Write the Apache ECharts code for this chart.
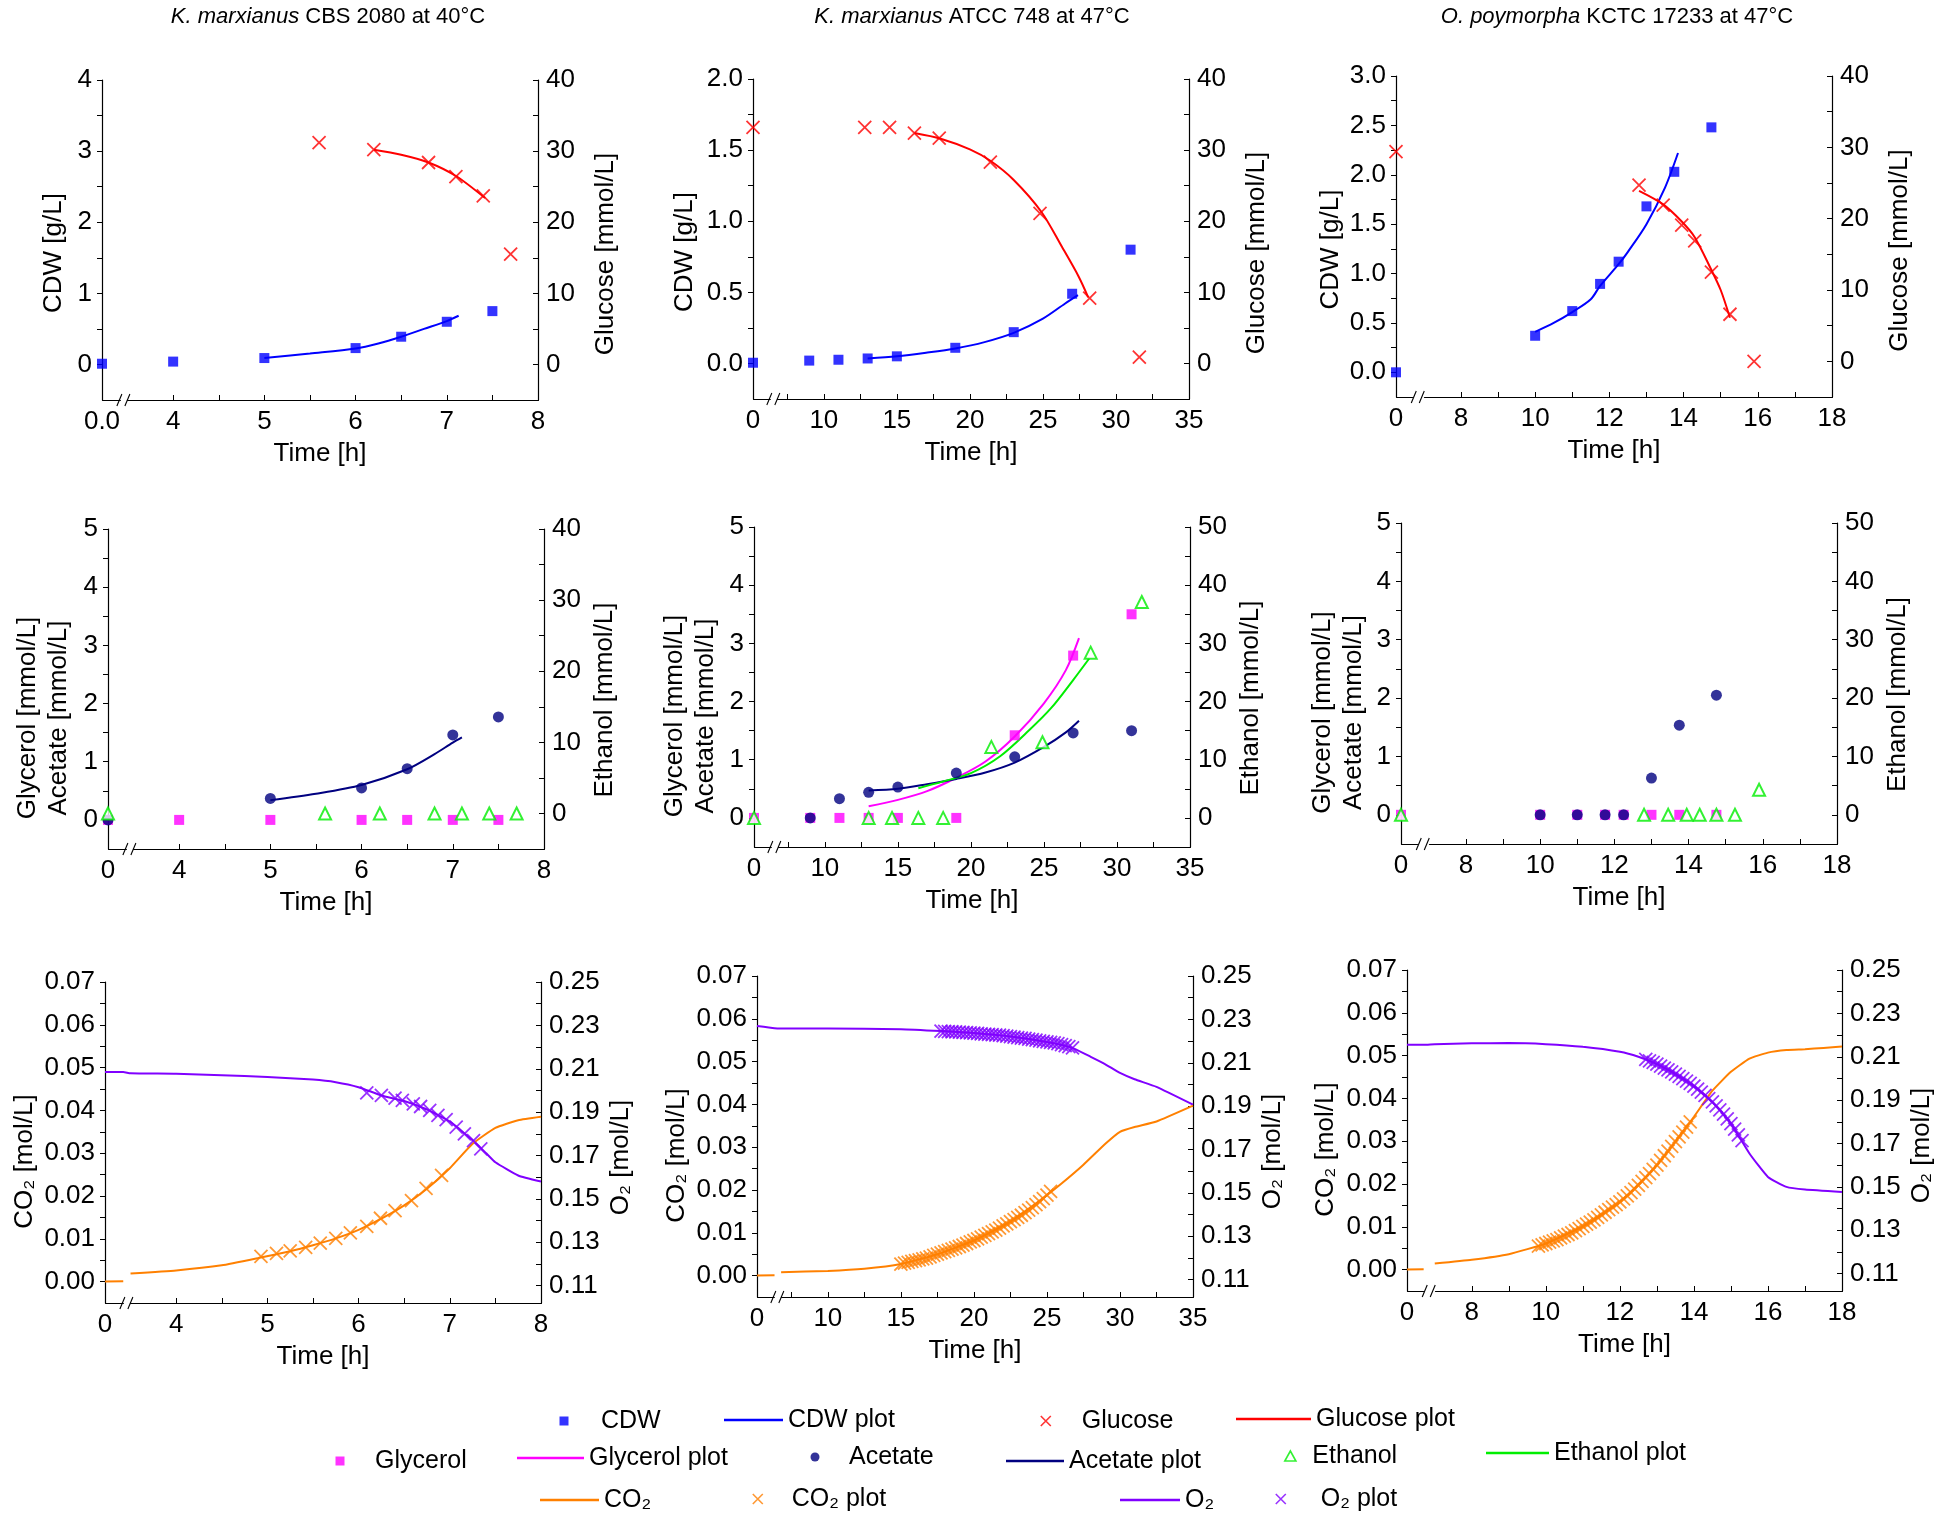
<!DOCTYPE html>
<html>
<head>
<meta charset="utf-8">
<title>Growth kinetics</title>
<script src="https://cdn.jsdelivr.net/npm/echarts@6/dist/echarts.min.js"></script>
<style>
  html, body { margin: 0; padding: 0; background: #fff; }
  #main { width: 1941px; height: 1522px; }
</style>
</head>
<body>
<div id="main"></div>
<script>
// ---------- tick labels ----------
var x8Labels = [0, 4, 5, 6, 7, 8];
var x8Ticks = [0, 4, 4.5, 5, 5.5, 6, 6.5, 7, 7.5, 8];
var x35Labels = [0, 10, 15, 20, 25, 30, 35];
var x35Ticks = [0, 7.5, 10, 12.5, 15, 17.5, 20, 22.5, 25, 27.5, 30, 32.5, 35];
var x18Labels = [0, 8, 10, 12, 14, 16, 18];
var x18Ticks = [0, 8, 9, 10, 11, 12, 13, 14, 15, 16, 17, 18];
var cdw4Labels = [0, 1, 2, 3, 4];
var cdw4Ticks = [0, 0.5, 1, 1.5, 2, 2.5, 3, 3.5, 4];
var cdw2Labels = [0, 0.5, 1, 1.5, 2];
var cdw2Ticks = [0, 0.25, 0.5, 0.75, 1, 1.25, 1.5, 1.75, 2];
var cdw3Labels = [0, 0.5, 1, 1.5, 2, 2.5, 3];
var cdw3Ticks = [0, 0.25, 0.5, 0.75, 1, 1.25, 1.5, 1.75, 2, 2.25, 2.5, 2.75, 3];
var c40Labels = [0, 10, 20, 30, 40];
var c40Ticks = [0, 5, 10, 15, 20, 25, 30, 35, 40];
var c50Labels = [0, 10, 20, 30, 40, 50];
var c50Ticks = [0, 5, 10, 15, 20, 25, 30, 35, 40, 45, 50];
var m5Labels = [0, 1, 2, 3, 4, 5];
var m5Ticks = [0, 0.5, 1, 1.5, 2, 2.5, 3, 3.5, 4, 4.5, 5];
var co2Labels = [0, 0.01, 0.02, 0.03, 0.04, 0.05, 0.06, 0.07];
var co2Ticks = [0, 0.005, 0.01, 0.015, 0.02, 0.025, 0.03, 0.035, 0.04, 0.045, 0.05, 0.055, 0.06, 0.065, 0.07];
var o2Labels = [0.11, 0.13, 0.15, 0.17, 0.19, 0.21, 0.23, 0.25];
var o2Ticks = [0.11, 0.12, 0.13, 0.14, 0.15, 0.16, 0.17, 0.18, 0.19, 0.2, 0.21, 0.22, 0.23, 0.24, 0.25];

// ---------- K. marxianus CBS 2080 ----------
var cbsCdw = [[0, 0.01], [4, 0.04], [5, 0.09], [6, 0.23], [6.5, 0.39], [7, 0.6], [7.5, 0.75]];
var cbsCdwFit = [[5, 0.09], [5.5, 0.155], [6, 0.225], [6.25, 0.295], [6.5, 0.39], [6.75, 0.5], [7, 0.61], [7.13, 0.685]];
var cbsGlc = [[5.6, 31.2], [6.2, 30.2], [6.8, 28.4], [7.1, 26.4], [7.4, 23.7], [7.7, 15.5]];
var cbsGlcFit = [[6.2, 30.2], [6.5, 29.5], [6.8, 28.4], [7.1, 26.5], [7.42, 23.4]];
var cbsGly = [[0, 0], [4, 0], [5, 0], [6, 0], [6.5, 0], [7, 0], [7.5, 0]];
var cbsAce = [[0, 0], [5, 0.37], [6, 0.55], [6.5, 0.88], [7, 1.46], [7.5, 1.77]];
var cbsAceFit = [[5, 0.34], [5.5, 0.45], [6, 0.6], [6.5, 0.87], [6.8, 1.13], [7, 1.33], [7.1, 1.42]];
var cbsEth = [[0, 0], [5.6, 0], [6.2, 0], [6.8, 0], [7.1, 0], [7.4, 0], [7.7, 0]];
var cbsCo2 = [[0, 0], [0.2, 0.0001], [1, null], [3.5, 0.0019], [4, 0.0026], [4.5, 0.0038], [4.9, 0.0055], [5.25, 0.0071],
  [5.5, 0.0085], [5.75, 0.0101], [6, 0.0121], [6.25, 0.0147], [6.5, 0.0178], [6.75, 0.0217], [7, 0.0265],
  [7.25, 0.0322], [7.5, 0.0359], [7.75, 0.0377], [8, 0.0385]];
var cbsCo2Pts = [[4.93, 0.0059], [5.1, 0.0066], [5.25, 0.0072], [5.42, 0.008], [5.58, 0.009], [5.75, 0.0101], [5.91, 0.0114],
  [6.09, 0.0129], [6.24, 0.0148], [6.4, 0.0166], [6.58, 0.0189], [6.74, 0.0218], [6.91, 0.0248]];
var cbsO2 = [[0, 0.2085], [0.2, 0.2085], [3.5, 0.2079], [4, 0.2077], [4.5, 0.207], [5, 0.2062], [5.5, 0.205], [5.75, 0.2038],
  [6, 0.2015], [6.25, 0.1977], [6.5, 0.1951], [6.75, 0.1912], [7, 0.1857], [7.25, 0.177], [7.4, 0.171], [7.5, 0.1669],
  [7.75, 0.1608], [8, 0.158]];
var cbsO2Pts = [[6.09, 0.1989], [6.25, 0.1977], [6.4, 0.1965], [6.48, 0.1954], [6.6, 0.1938], [6.68, 0.1926], [6.78, 0.1908],
  [6.87, 0.1885], [6.96, 0.1865], [7.07, 0.1831], [7.16, 0.18], [7.26, 0.1769], [7.34, 0.1731]];

// ---------- K. marxianus ATCC 748 ----------
var atccCdw = [[0, 0.005], [9, 0.02], [11, 0.026], [13, 0.035], [15, 0.05], [19, 0.11], [23, 0.22], [27, 0.49], [31, 0.8]];
var atccCdwFit = [[13, 0.035], [15, 0.05], [17, 0.075], [19, 0.105], [21, 0.15], [23, 0.215], [25, 0.315], [26.5, 0.42], [27.4, 0.48]];
var atccGlc = [[0, 33.2], [12.8, 33.2], [14.5, 33.2], [16.2, 32.4], [17.9, 31.7], [21.4, 28.3], [24.8, 21.1], [28.2, 9.2], [31.6, 0.9]];
var atccGlcFit = [[16.2, 32.4], [18, 31.6], [20, 30.1], [21.4, 28.5], [23, 25.8], [24.9, 21.3], [26.3, 16.4], [27.45, 12.2], [28.1, 9.3]];
var atccGly = [[0, 0], [9, 0], [11, 0], [13, 0], [15, 0], [19, 0], [23, 1.42], [27, 2.79], [31, 3.5]];
var atccGlyFit = [[13, 0.2], [15, 0.31], [17, 0.46], [19, 0.69], [21, 0.97], [23, 1.4], [25, 1.97], [26.5, 2.54], [27.4, 3.09]];
var atccAce = [[9, 0], [11, 0.33], [13, 0.44], [15, 0.53], [19, 0.77], [23, 1.05], [27, 1.46], [31, 1.5]];
var atccAceFit = [[13, 0.47], [15, 0.5], [17, 0.58], [19, 0.67], [21, 0.78], [23, 0.95], [25, 1.22], [26.5, 1.47], [27.4, 1.67]];
var atccEth = [[0, 0], [13, 0], [14.6, 0], [16.4, 0], [18.1, 0], [21.4, 12.2], [24.9, 13], [28.2, 28.4], [31.7, 37.1]];
var atccEthFit = [[16.4, 5.1], [18, 6.2], [20, 7.7], [22, 10.6], [24, 15.1], [25.5, 18.9], [27, 23.7], [28.1, 27.4]];
var atccCo2 = [[0, 0], [1.2, 0.0001], [4, null], [6.8, 0.0008], [10, 0.0011], [12.5, 0.0016], [15, 0.0027], [17.5, 0.005],
  [20, 0.0082], [22.5, 0.0126], [25, 0.0188], [26, 0.0215], [27.5, 0.0259], [29, 0.0308], [30, 0.0336], [31, 0.0347],
  [32.5, 0.036], [35, 0.0397]];
var atccCo2Pts = [[15, 0.0027], [15.25, 0.0029], [15.5, 0.0031], [15.75, 0.0033], [16, 0.0035], [16.25, 0.0037], [16.5, 0.0039],
  [16.75, 0.0041], [17, 0.0044], [17.25, 0.0047], [17.5, 0.005], [17.75, 0.0053], [18, 0.0056], [18.25, 0.0059],
  [18.5, 0.0062], [18.75, 0.0065], [19, 0.0068], [19.25, 0.0071], [19.5, 0.0075], [19.75, 0.0079], [20, 0.0082],
  [20.25, 0.0086], [20.5, 0.009], [20.75, 0.0094], [21, 0.0098], [21.25, 0.0102], [21.5, 0.0106], [21.75, 0.0111],
  [22, 0.0116], [22.25, 0.0121], [22.5, 0.0126], [22.75, 0.0131], [23, 0.0136], [23.25, 0.0141], [23.5, 0.0147],
  [23.75, 0.0153], [24, 0.0159], [24.25, 0.0166], [24.5, 0.0173], [24.75, 0.018], [25, 0.0188], [25.25, 0.0197]];
var atccO2 = [[0, 0.2269], [1.2, 0.2259], [6.8, 0.2258], [10, 0.2258], [15, 0.2255], [17.8, 0.2246], [20, 0.2237], [22.5, 0.2221],
  [25, 0.2196], [26.7, 0.217], [28, 0.2127], [29, 0.2093], [30, 0.2053], [31, 0.2024], [32.5, 0.1989], [35, 0.1907]];
var atccO2Pts = [[17.75, 0.2246], [18, 0.2245], [18.25, 0.2244], [18.5, 0.2243], [18.75, 0.2242], [19, 0.2241], [19.25, 0.224],
  [19.5, 0.2239], [19.75, 0.2238], [20, 0.2237], [20.25, 0.2235], [20.5, 0.2233], [20.75, 0.2232], [21, 0.2231],
  [21.25, 0.223], [21.5, 0.2228], [21.75, 0.2227], [22, 0.2225], [22.25, 0.2223], [22.5, 0.2221], [22.75, 0.2218],
  [23, 0.2216], [23.25, 0.2214], [23.5, 0.2212], [23.75, 0.2209], [24, 0.2207], [24.25, 0.2204], [24.5, 0.2201],
  [24.75, 0.2199], [25, 0.2196], [25.25, 0.2194], [25.5, 0.2192], [25.75, 0.2188], [26, 0.2184], [26.25, 0.2179],
  [26.5, 0.2174], [26.75, 0.2169]];

// ---------- O. polymorpha KCTC 17233 ----------
var kctcCdw = [[0, 0], [10, 0.37], [11, 0.62], [11.75, 0.895], [12.25, 1.12], [13, 1.68], [13.75, 2.03], [14.75, 2.48]];
var kctcCdwFit = [[10, 0.41], [10.5, 0.5], [11, 0.61], [11.5, 0.74], [11.75, 0.875], [12.25, 1.095], [12.5, 1.22], [13, 1.5], [13.5, 1.87], [13.85, 2.22]];
var kctcGlc = [[0, 29.4], [12.8, 24.7], [13.45, 21.9], [13.95, 19.1], [14.3, 16.9], [14.75, 12.5], [15.25, 6.6], [15.9, 0]];
var kctcGlcFit = [[12.8, 23.9], [13.45, 22], [13.95, 19.6], [14.3, 17.4], [14.75, 12.8], [15, 10], [15.25, 6.1]];
var kctcGly = [[0, 0], [10, 0], [11, 0], [11.75, 0], [12.25, 0], [13, 0], [13.75, 0], [14.75, 0]];
var kctcAce = [[10, 0], [11, 0], [11.75, 0], [12.25, 0], [13, 0.63], [13.75, 1.535], [14.75, 2.05]];
var kctcEth = [[0, 0], [12.8, 0], [13.45, 0], [13.95, 0], [14.3, 0], [14.75, 0], [15.25, 0], [15.9, 4.3]];
var kctcCo2 = [[0, 0], [0.45, 0.0001], [3, null], [7, 0.0014], [8, 0.0023], [9, 0.0036], [10, 0.0061], [11, 0.0101], [12, 0.0158],
  [13, 0.0244], [13.5, 0.0299], [14, 0.0357], [14.5, 0.0418], [15, 0.0462], [15.5, 0.0493], [16, 0.0507], [16.5, 0.0513],
  [17, 0.0515], [17.5, 0.0518], [18, 0.0521]];
var kctcCo2Pts = [[9.8, 0.0055], [9.9, 0.0058], [10, 0.0061], [10.1, 0.0064], [10.2, 0.0067], [10.3, 0.007], [10.4, 0.0074],
  [10.5, 0.0078], [10.6, 0.0082], [10.7, 0.0086], [10.8, 0.0091], [10.9, 0.0096], [11, 0.0101], [11.1, 0.0106],
  [11.2, 0.0111], [11.3, 0.0116], [11.4, 0.0122], [11.5, 0.0128], [11.6, 0.0134], [11.7, 0.014], [11.8, 0.0146],
  [11.9, 0.0152], [12, 0.0158], [12.1, 0.0165], [12.2, 0.0172], [12.3, 0.018], [12.4, 0.0188], [12.5, 0.0197],
  [12.6, 0.0206], [12.7, 0.0215], [12.8, 0.0224], [12.9, 0.0234], [13, 0.0244], [13.1, 0.0255], [13.2, 0.0266],
  [13.3, 0.0277], [13.4, 0.0288], [13.5, 0.0299], [13.6, 0.031], [13.7, 0.0321], [13.8, 0.0333], [13.9, 0.0345]];
var kctcO2 = [[0, 0.2155], [0.45, 0.2155], [7, 0.2158], [8, 0.2162], [9, 0.2163], [10, 0.2158], [11, 0.2146], [12, 0.2123],
  [12.5, 0.21], [13, 0.2066], [13.5, 0.202], [14, 0.1965], [14.5, 0.1892], [15, 0.1792], [15.5, 0.1654], [16, 0.1546],
  [16.5, 0.15], [17, 0.1488], [18, 0.1477]];
var kctcO2Pts = [[12.7, 0.2088], [12.8, 0.2081], [12.9, 0.2074], [13, 0.2066], [13.1, 0.2057], [13.2, 0.2048], [13.3, 0.2039],
  [13.4, 0.203], [13.5, 0.202], [13.6, 0.201], [13.7, 0.1999], [13.8, 0.1988], [13.9, 0.1977], [14, 0.1965],
  [14.1, 0.1951], [14.2, 0.1937], [14.3, 0.1922], [14.4, 0.1907], [14.5, 0.1892], [14.6, 0.1874], [14.7, 0.1855],
  [14.8, 0.1835], [14.9, 0.1814], [15, 0.1792], [15.1, 0.1766], [15.2, 0.174], [15.3, 0.1713]];

// ---------- styles ----------
var FONT = 'Liberation Sans, Arial, sans-serif';
var BLUE = '#0000ff', RED = '#ff0000', MAGENTA = '#ff00ff', NAVY = '#000080', GREEN = '#00ee00', ORANGE = '#ff8000', PURPLE = '#8000ff';
var XMARK = 'path://M0,0L10,10M10,0L0,10';
var TICKFONT = 26, NAMEFONT = 26;

var STYLE = {
  'CDW': { kind: 'sym', symbol: 'rect', size: 10, color: BLUE },
  'CDW plot': { kind: 'line', color: BLUE },
  'Glucose': { kind: 'sym', symbol: XMARK, size: 13, color: RED },
  'Glucose plot': { kind: 'line', color: RED },
  'Glycerol': { kind: 'sym', symbol: 'rect', size: 10, color: MAGENTA },
  'Glycerol plot': { kind: 'line', color: MAGENTA },
  'Acetate': { kind: 'sym', symbol: 'circle', size: 11, color: NAVY },
  'Acetate plot': { kind: 'line', color: NAVY },
  'Ethanol': { kind: 'sym', symbol: 'emptyTriangle', size: 12, color: GREEN },
  'Ethanol plot': { kind: 'line', color: GREEN },
  'CO₂': { kind: 'line', color: ORANGE, smooth: 0.15 },
  'CO₂ plot': { kind: 'sym', symbol: XMARK, size: 13, color: ORANGE },
  'O₂': { kind: 'line', color: PURPLE, smooth: 0.15 },
  'O₂ plot': { kind: 'sym', symbol: XMARK, size: 13, color: PURPLE }
};

var XCOLS = [
  { max: 8, brk: { start: 0.2, end: 3.5, gap: 0.08 }, labels: x8Labels, ticks: x8Ticks },
  { max: 35, brk: { start: 1.2, end: 6.8, gap: 0.45 }, labels: x35Labels, ticks: x35Ticks },
  { max: 18, brk: { start: 0.45, end: 7, gap: 0.3 }, labels: x18Labels, ticks: x18Ticks }
];

// box: [left, top, right, bottom]; y axis: [name, min, max, labels, ticks, decimals, nameGap, shift]
var panels = [
  { box: [102, 80, 538, 400], col: 0,
    yl: ['CDW [g/L]', -0.5, 4, cdw4Labels, cdw4Ticks, 0, 33, 26],
    yr: ['Glucose [mmol/L]', -5, 40, c40Labels, c40Ticks, 0, 52, 28],
    series: [['CDW', cbsCdw, 0], ['CDW plot', cbsCdwFit, 0], ['Glucose', cbsGlc, 1], ['Glucose plot', cbsGlcFit, 1]] },
  { box: [753, 79, 1189, 399], col: 1,
    yl: ['CDW [g/L]', -0.25, 2, cdw2Labels, cdw2Ticks, 1, 53, 26],
    yr: ['Glucose [mmol/L]', -5, 40, c40Labels, c40Ticks, 0, 52, 28],
    series: [['CDW', atccCdw, 0], ['CDW plot', atccCdwFit, 0], ['Glucose', atccGlc, 1], ['Glucose plot', atccGlcFit, 1]] },
  { box: [1396, 76, 1832, 397], col: 2,
    yl: ['CDW [g/L]', -0.25, 3, cdw3Labels, cdw3Ticks, 1, 46, 26],
    yr: ['Glucose [mmol/L]', -5, 40, c40Labels, c40Ticks, 0, 52, 28],
    series: [['CDW', kctcCdw, 0], ['CDW plot', kctcCdwFit, 0], ['Glucose', kctcGlc, 1], ['Glucose plot', kctcGlcFit, 1]] },
  { box: [108, 529, 544, 849], col: 0,
    yl: ['Glycerol [mmol/L]\nAcetate [mmol/L]', -0.5, 5, m5Labels, m5Ticks, 0, 34, 58],
    yr: ['Ethanol [mmol/L]', -5, 40, c40Labels, c40Ticks, 0, 45, 22],
    series: [['Glycerol', cbsGly, 0], ['Acetate', cbsAce, 0], ['Acetate plot', cbsAceFit, 0], ['Ethanol', cbsEth, 1]] },
  { box: [754, 527, 1190, 847], col: 1,
    yl: ['Glycerol [mmol/L]\nAcetate [mmol/L]', -0.5, 5, m5Labels, m5Ticks, 0, 33, 58],
    yr: ['Ethanol [mmol/L]', -5, 50, c50Labels, c50Ticks, 0, 45, 22],
    series: [['Glycerol', atccGly, 0], ['Glycerol plot', atccGlyFit, 0], ['Acetate', atccAce, 0], ['Acetate plot', atccAceFit, 0],
      ['Ethanol', atccEth, 1], ['Ethanol plot', atccEthFit, 1]] },
  { box: [1401, 523, 1837, 844], col: 2,
    yl: ['Glycerol [mmol/L]\nAcetate [mmol/L]', -0.5, 5, m5Labels, m5Ticks, 0, 32, 58],
    yr: ['Ethanol [mmol/L]', -5, 50, c50Labels, c50Ticks, 0, 45, 22],
    series: [['Glycerol', kctcGly, 0], ['Acetate', kctcAce, 0], ['Ethanol', kctcEth, 1]] },
  { box: [105, 982, 541, 1303], col: 0,
    yl: ['CO₂ [mol/L]', -0.005, 0.07, co2Labels, co2Ticks, 2, 62, 38],
    yr: ['O₂ [mol/L]', 0.102, 0.25, o2Labels, o2Ticks, 2, 64, 30],
    series: [['O₂', cbsO2, 1], ['CO₂', cbsCo2, 0], ['O₂ plot', cbsO2Pts, 1], ['CO₂ plot', cbsCo2Pts, 0]] },
  { box: [757, 976, 1193, 1297], col: 1,
    yl: ['CO₂ [mol/L]', -0.005, 0.07, co2Labels, co2Ticks, 2, 64, 38],
    yr: ['O₂ [mol/L]', 0.102, 0.25, o2Labels, o2Ticks, 2, 64, 30],
    series: [['O₂', atccO2, 1], ['CO₂', atccCo2, 0], ['O₂ plot', atccO2Pts, 1], ['CO₂ plot', atccCo2Pts, 0]] },
  { box: [1407, 970, 1842, 1291], col: 2,
    yl: ['CO₂ [mol/L]', -0.005, 0.07, co2Labels, co2Ticks, 2, 66, 38],
    yr: ['O₂ [mol/L]', 0.102, 0.25, o2Labels, o2Ticks, 2, 64, 30],
    series: [['O₂', kctcO2, 1], ['CO₂', kctcCo2, 0], ['O₂ plot', kctcO2Pts, 1], ['CO₂ plot', kctcCo2Pts, 0]] }
];

var titles = [
  { x: 328, text: '{i|K. marxianus} CBS 2080 at 40°C' },
  { x: 972, text: '{i|K. marxianus} ATCC 748 at 47°C' },
  { x: 1617, text: '{i|O. poymorpha} KCTC 17233 at 47°C' }
];

var AXCOLOR = '#000';

function makeY(gi, right, y) {
  var dec = y[5];
  return {
    type: 'value', gridIndex: gi, position: right ? 'right' : 'left',
    min: y[1], max: y[2],
    name: y[0], nameLocation: 'middle', nameRotate: 90, nameGap: y[6],
    nameTextStyle: { fontSize: NAMEFONT, color: '#000', fontFamily: FONT, lineHeight: 31, padding: [0, y[7], 0, 0] },
    axisLine: { show: true, onZero: false, lineStyle: { color: AXCOLOR, width: 1.2 } },
    axisTick: { show: true, inside: right, length: 5, customValues: y[4], lineStyle: { color: AXCOLOR, width: 1 } },
    axisLabel: { show: true, customValues: y[3], fontSize: TICKFONT, color: '#000', fontFamily: FONT, margin: right ? 8 : 10,
      formatter: function (v) { return Number(v).toFixed(dec); } },
    splitLine: { show: false }
  };
}

function makeX(gi, p) {
  var c = XCOLS[p.col];
  return {
    type: 'value', gridIndex: gi, min: 0, max: c.max,
    breaks: [c.brk], breakArea: { show: false },
    name: 'Time [h]', nameLocation: 'middle', nameGap: 41,
    nameTextStyle: { fontSize: NAMEFONT, color: '#000', fontFamily: FONT },
    axisLine: { show: true, onZero: false, lineStyle: { color: AXCOLOR, width: 1.2 } },
    axisTick: { show: true, inside: true, length: 5, customValues: c.ticks, lineStyle: { color: AXCOLOR, width: 1 } },
    axisLabel: { show: true, customValues: c.labels, fontSize: TICKFONT, color: '#000', fontFamily: FONT, margin: 9,
      formatter: function (v) { return (gi === 0 && Number(v) === 0) ? '0.0' : String(v); } },
    splitLine: { show: false }
  };
}

function makeSeries(gi, spec) {
  var name = spec[0], st = STYLE[name];
  var s = { name: name, data: spec[1], xAxisIndex: gi, yAxisIndex: gi * 2 + spec[2], silent: true, animation: false };
  if (st.kind === 'line') {
    s.type = 'line';
    s.smooth = st.smooth != null ? st.smooth : 0.3;
    s.symbol = 'none';
    s.color = st.color;
    s.connectNulls = false;
    s.lineStyle = { color: st.color, width: 2 };
    s.z = 2;
    return s;
  }
  s.type = 'scatter';
  s.symbol = st.symbol;
  s.symbolSize = st.size;
  s.color = st.color;
  s.z = 3;
  if (st.symbol === XMARK) s.itemStyle = { color: 'rgba(0,0,0,0)', borderColor: st.color, borderWidth: 1.8 };
  else if (st.symbol === 'emptyTriangle') s.itemStyle = { color: st.color, borderWidth: 1.5 };
  else s.itemStyle = { color: st.color };
  return s;
}

// legend items: icon symbol centred at cx or a line starting at x1; text starts at tx
var LEG_SQ = 'path://M0,0H10V10H0Z';
var LEG_TRI = 'path://M5,0L10,9L0,9Z';
var LEG_DOT = 'path://M5,0A5,5,0,1,1,4.99,0Z';
var legendDefs = [
  { name: 'CDW', icon: LEG_SQ, cx: 564, tx: 601, cy: 1421, size: 9, fill: BLUE },
  { name: 'CDW plot', x1: 724, tx: 788, cy: 1420, fill: BLUE },
  { name: 'Glucose', icon: XMARK, cx: 1045, tx: 1081, cy: 1421, size: 10, stroke: RED },
  { name: 'Glucose plot', x1: 1236, tx: 1316, cy: 1419, fill: RED },
  { name: 'Glycerol', icon: LEG_SQ, cx: 340, tx: 375, cy: 1461, size: 9, fill: MAGENTA },
  { name: 'Glycerol plot', x1: 517, tx: 589, cy: 1458, fill: MAGENTA },
  { name: 'Acetate', icon: LEG_DOT, cx: 815, tx: 849, cy: 1457, size: 9, fill: NAVY },
  { name: 'Acetate plot', x1: 1006, tx: 1069, cy: 1461, fill: NAVY },
  { name: 'Ethanol', icon: LEG_TRI, cx: 1289, tx: 1311, cy: 1456, size: 10, stroke: GREEN },
  { name: 'Ethanol plot', x1: 1486, tx: 1554, cy: 1453, fill: GREEN },
  { name: 'CO₂', x1: 540, tx: 604, cy: 1500, fill: ORANGE },
  { name: 'CO₂ plot', icon: XMARK, cx: 757, tx: 791, cy: 1499, size: 10, stroke: ORANGE },
  { name: 'O₂', x1: 1120, tx: 1185, cy: 1500, fill: PURPLE },
  { name: 'O₂ plot', icon: XMARK, cx: 1280, tx: 1320, cy: 1499, size: 10, stroke: PURPLE }
];

function makeLegend(d) {
  var lg = {
    data: [d.name], selectedMode: false, padding: 0, itemGap: 0, orient: 'horizontal',
    top: d.cy - 14,
    textStyle: { fontSize: 25, color: '#000', fontFamily: FONT, lineHeight: 28 }
  };
  if (d.x1 != null) {
    lg.icon = 'rect';
    lg.left = d.x1;
    lg.itemWidth = d.tx - 5 - d.x1;
    lg.itemHeight = 2.5;
    lg.itemStyle = { color: d.fill, borderWidth: 0 };
  } else {
    // the legend box is laid out from the visible icon, so anchor at the icon's left edge
    lg.icon = d.icon;
    lg.left = d.cx - d.size / 2;
    lg.itemWidth = 2 * (d.tx - 5 - d.cx);
    lg.itemHeight = d.size;
    if (d.stroke) lg.itemStyle = { color: 'rgba(255,255,255,0)', borderColor: d.stroke, borderWidth: 1.6 };
    else lg.itemStyle = { color: d.fill, borderWidth: 0 };
  }
  return lg;
}

var grids = [], xAxes = [], yAxes = [], series = [];
panels.forEach(function (p, gi) {
  grids.push({ left: p.box[0], top: p.box[1], width: p.box[2] - p.box[0], height: p.box[3] - p.box[1],
    containLabel: false, outerBoundsMode: 'none' });
  xAxes.push(makeX(gi, p));
  yAxes.push(makeY(gi, false, p.yl));
  yAxes.push(makeY(gi, true, p.yr));
  p.series.forEach(function (s) { series.push(makeSeries(gi, s)); });
});

function titleGraphics() {
  return titles.map(function (t) {
    return {
      type: 'text', x: t.x, y: 17, silent: true,
      style: {
        text: t.text, fontSize: 22, fontFamily: FONT, fill: '#000',
        align: 'center', verticalAlign: 'middle', textAlign: 'center', textVerticalAlign: 'middle',
        rich: { i: { fontStyle: 'italic', fontSize: 22, fontFamily: FONT, fill: '#000' } }
      }
    };
  });
}

var chart = echarts.init(document.getElementById('main'), null, { renderer: 'canvas' });
chart.setOption({
  backgroundColor: '#ffffff',
  animation: false,
  textStyle: { fontFamily: FONT },
  grid: grids,
  xAxis: xAxes,
  yAxis: yAxes,
  legend: legendDefs.map(makeLegend),
  graphic: titleGraphics(),
  series: series
});

// axis break marks "//"
var marks = [];
panels.forEach(function (p, gi) {
  var c = XCOLS[p.col];
  var a = chart.convertToPixel({ xAxisIndex: gi }, c.brk.start);
  var b = chart.convertToPixel({ xAxisIndex: gi }, c.brk.end);
  if (!isFinite(a) || !isFinite(b)) return;
  var cx = (a + b) / 2, y = p.box[3];
  marks.push({ type: 'rect', silent: true, z: 100, shape: { x: cx - 3, y: y - 2, width: 6, height: 4 }, style: { fill: '#fff' } });
  marks.push({ type: 'line', silent: true, z: 101, shape: { x1: cx - 7, y1: y + 6, x2: cx - 2, y2: y - 6 }, style: { stroke: '#000', lineWidth: 1.1 } });
  marks.push({ type: 'line', silent: true, z: 101, shape: { x1: cx + 1, y1: y + 6, x2: cx + 6, y2: y - 6 }, style: { stroke: '#000', lineWidth: 1.1 } });
});
chart.setOption({ graphic: titleGraphics().concat(marks) });
</script>
</body>
</html>
